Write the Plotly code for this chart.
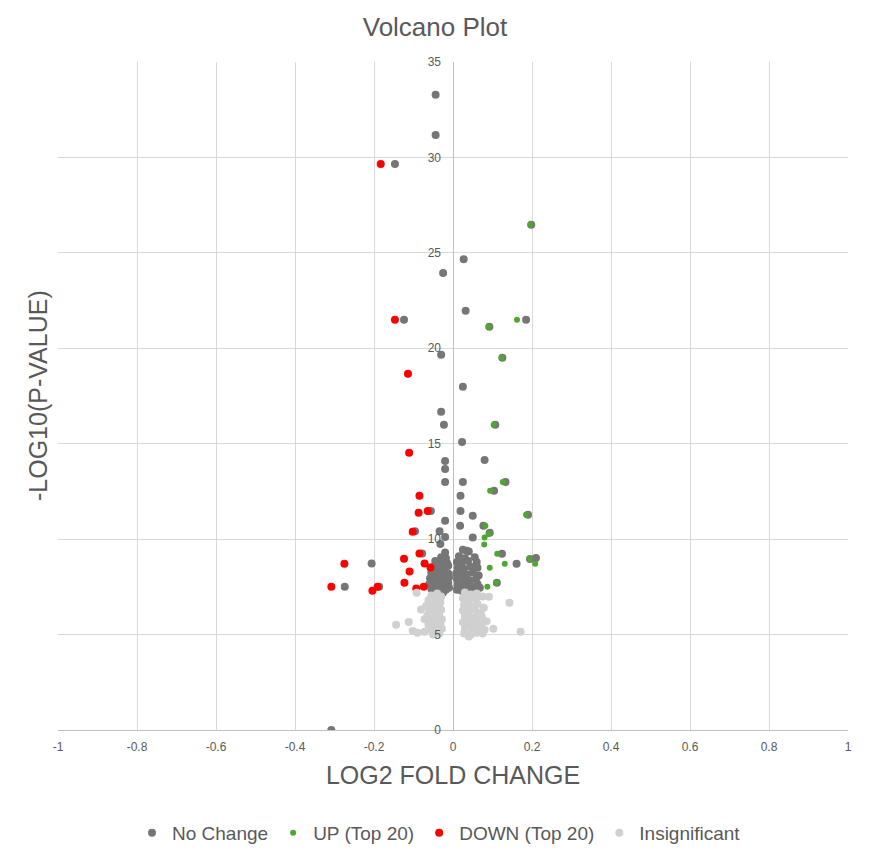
import plotly.graph_objects as go

# ---------------- data ----------------
nochange_x = [-0.044, -0.044, -0.147, 0.027, -0.025, 0.032, -0.124, 0.185, 0.092, 0.198,
              -0.030, 0.025, -0.030, -0.023, 0.107, 0.023, -0.020, 0.080, -0.020, -0.020,
              0.025, 0.133, 0.019, 0.104, -0.056, 0.019, 0.050, 0.190, -0.020, 0.018,
              0.077, -0.096, -0.034, 0.093, -0.020, 0.050, -0.032, 0.035, -0.078, 0.124,
              -0.206, 0.161, 0.210, 0.195, -0.274, -0.187, -0.308, 0.125, 0.111,
              # left dense cluster
              -0.020, -0.030, -0.018, -0.045, -0.028, -0.015, -0.050, -0.035, -0.020, -0.012,
              -0.055, -0.040, -0.025, -0.012, -0.058, -0.045, -0.030, -0.018, -0.010, -0.060,
              -0.048, -0.035, -0.022, -0.012, -0.055, -0.042, -0.030, -0.018, -0.010, -0.048,
              -0.025,
              # right dense cluster
              0.025, 0.040, 0.015, 0.030, 0.055, 0.010, 0.022, 0.038, 0.060, 0.012,
              0.028, 0.045, 0.062, 0.008, 0.020, 0.035, 0.050, 0.065, 0.010, 0.025,
              0.042, 0.058, 0.012, 0.028, 0.045, 0.062, 0.010, 0.022, 0.038, 0.055,
              0.068, 0.030, 0.050]
nochange_y = [33.28, 31.17, 29.65, 24.67, 23.95, 21.97, 21.50, 21.50, 21.13, 26.47,
              19.66, 17.98, 16.67, 15.99, 15.99, 15.09, 14.10, 14.15, 13.67, 13.00,
              13.00, 13.00, 12.27, 12.54, 11.47, 11.47, 11.22, 11.28, 10.97, 10.70,
              10.70, 10.41, 10.41, 10.33, 10.11, 10.09, 9.75, 9.39, 9.25, 9.23,
              8.73, 8.71, 9.01, 8.96, 7.51, 7.51, 0.00, 19.50, 7.72,
              9.30, 9.05, 9.00, 8.85, 8.80, 8.75, 8.55, 8.50, 8.45, 8.60,
              8.25, 8.20, 8.25, 8.20, 7.95, 7.90, 7.95, 7.90, 8.00, 7.65,
              7.70, 7.60, 7.65, 7.70, 7.40, 7.35, 7.40, 7.35, 7.45, 7.20,
              7.20,
              9.45, 9.35, 9.10, 9.00, 9.05, 8.80, 8.75, 8.85, 8.80, 8.50,
              8.45, 8.55, 8.50, 8.20, 8.25, 8.15, 8.25, 8.10, 7.90, 7.95,
              7.85, 7.90, 7.60, 7.65, 7.55, 7.65, 7.35, 7.30, 7.40, 7.35,
              7.45, 7.20, 7.20]

up_x = [0.196, 0.162, 0.090, 0.123, 0.103, 0.126, 0.094, 0.185, 0.082, 0.090,
        0.080, 0.079, 0.112, 0.093, 0.131, 0.193, 0.208, 0.087, 0.109]
up_y = [26.47, 21.50, 21.13, 19.50, 15.99, 13.00, 12.54, 11.28, 10.70, 10.27,
        10.09, 9.72, 9.23, 8.50, 8.71, 8.96, 8.71, 7.51, 7.72]

down_x = [-0.183, -0.147, -0.114, -0.111, -0.085, -0.087, -0.064, -0.102, -0.085, -0.124,
          -0.275, -0.072, -0.057, -0.110, -0.308, -0.191, -0.204, -0.123, -0.093, -0.074]
down_y = [29.65, 21.50, 18.67, 14.53, 12.27, 11.38, 11.47, 10.39, 9.25, 8.97,
          8.71, 8.73, 8.52, 8.31, 7.51, 7.51, 7.30, 7.72, 7.42, 7.51]

insig_x = [-0.092, -0.144, -0.112, -0.102, -0.090, -0.081, 0.091, 0.143, 0.102, 0.171, 0.073,
           # left cluster
           -0.040, -0.055, -0.030, -0.062, -0.045, -0.032, -0.068, -0.050, -0.035, -0.060,
           -0.042, -0.030, -0.065, -0.050, -0.035, -0.058, -0.040, -0.028, -0.062, -0.048,
           -0.032, -0.055, -0.040, -0.028, -0.050, -0.035, -0.072, -0.072,
           # right cluster
           0.030, 0.045, 0.060, 0.075, 0.025, 0.040, 0.058, 0.028, 0.045, 0.062,
           0.078, 0.025, 0.040, 0.055, 0.070, 0.030, 0.048, 0.062, 0.085, 0.025,
           0.040, 0.058, 0.072, 0.030, 0.048, 0.065, 0.080, 0.028, 0.045, 0.060,
           0.075, 0.040]
insig_y = [7.19, 5.52, 5.66, 5.19, 5.10, 6.32, 6.98, 6.67, 5.31, 5.15, 5.93,
           7.15, 7.05, 7.00, 6.80, 6.85, 6.70, 6.50, 6.55, 6.45, 6.25,
           6.20, 6.30, 6.00, 5.95, 6.00, 5.75, 5.70, 5.80, 5.50, 5.45,
           5.50, 5.25, 5.20, 5.30, 5.00, 5.05, 5.15, 5.80,
           7.20, 7.10, 7.15, 7.00, 6.90, 6.80, 6.85, 6.55, 6.50, 6.60,
           6.40, 6.25, 6.20, 6.30, 6.15, 5.95, 5.90, 5.95, 5.70, 5.65,
           5.60, 5.65, 5.55, 5.35, 5.30, 5.35, 5.25, 5.05, 5.00, 5.10,
           5.05, 4.90]

x_ticks = [-1, -0.8, -0.6, -0.4, -0.2, 0, 0.2, 0.4, 0.6, 0.8, 1]
x_tick_labels = ["-1", "-0.8", "-0.6", "-0.4", "-0.2", "0", "0.2", "0.4", "0.6", "0.8", "1"]
y_ticks = [0, 5, 10, 15, 20, 25, 30, 35]
y_tick_labels = ["0", "5", "10", "15", "20", "25", "30", "35"]

# ---------------- styling ----------------
FONT = "Liberation Sans, Arial, sans-serif"
TXT = "#595959"
GRID = "#d9d9d9"
AXIS = "#bfbfbf"

# the page body adds an 8px margin, so the figure is 862x856
W, H = 862, 856

fig = go.Figure()
fig.add_trace(go.Scatter(x=nochange_x, y=nochange_y, mode="markers", name="No Change",
                         marker=dict(color="#767676", size=8, line=dict(width=0))))
fig.add_trace(go.Scatter(x=up_x, y=up_y, mode="markers", name="UP (Top 20)",
                         marker=dict(color="#4ea72e", size=6, line=dict(width=0))))
fig.add_trace(go.Scatter(x=down_x, y=down_y, mode="markers", name="DOWN (Top 20)",
                         marker=dict(color="#ff0000", size=8, line=dict(width=0))))
fig.add_trace(go.Scatter(x=insig_x, y=insig_y, mode="markers", name="Insignificant",
                         marker=dict(color="#d0d0d0", size=8, line=dict(width=0))))

fig.update_layout(
    width=W, height=H,
    margin=dict(l=50, r=22, t=54, b=134, autoexpand=False),
    paper_bgcolor="white", plot_bgcolor="white",
    font=dict(family=FONT, color=TXT),
    title=dict(text="Volcano Plot", x=427 / W, xref="container", xanchor="center",
               y=1 - 19 / H, yref="container", yanchor="middle",
               font=dict(family=FONT, size=26, color=TXT)),
    showlegend=True,
    legend=dict(orientation="h", xref="container", yref="container",
                x=0.5, xanchor="center", y=1 - 825 / H, yanchor="middle",
                font=dict(family=FONT, size=19, color=TXT),
                itemsizing="trace", bgcolor="rgba(0,0,0,0)"),
    xaxis=dict(range=[-1, 1], tickvals=x_ticks, ticktext=x_tick_labels,
               showgrid=True, gridcolor=GRID, gridwidth=1,
               zeroline=True, zerolinecolor=AXIS, zerolinewidth=1,
               showline=False, ticks="", ticklabelstandoff=8,
               tickfont=dict(family=FONT, size=12, color=TXT),
               title=dict(text="LOG2 FOLD CHANGE", standoff=13,
                          font=dict(family=FONT, size=25, color=TXT)),
               fixedrange=True),
    yaxis=dict(range=[0, 35], tickvals=y_ticks, ticktext=y_tick_labels,
               anchor="free", position=0.5,
               showgrid=True, gridcolor=GRID, gridwidth=1,
               zeroline=True, zerolinecolor=AXIS, zerolinewidth=1,
               showline=False, ticks="", ticklabelstandoff=12,
               tickfont=dict(family=FONT, size=12, color=TXT),
               fixedrange=True),
    annotations=[dict(text="-LOG10(P-VALUE)", textangle=-90, xref="paper", yref="paper",
                      x=(38 - 58) / 790, y=0.5, xanchor="center", yanchor="middle",
                      showarrow=False, font=dict(family=FONT, size=25, color=TXT))],
    shapes=[
        dict(type="line", xref="paper", yref="paper", x0=(868 - 58) / 790, x1=(868 - 58) / 790,
             y0=(730 - 857) / 668, y1=(730 - 8) / 668, line=dict(color=GRID, width=1)),
    ],
)

fig.write_html("out.html")
